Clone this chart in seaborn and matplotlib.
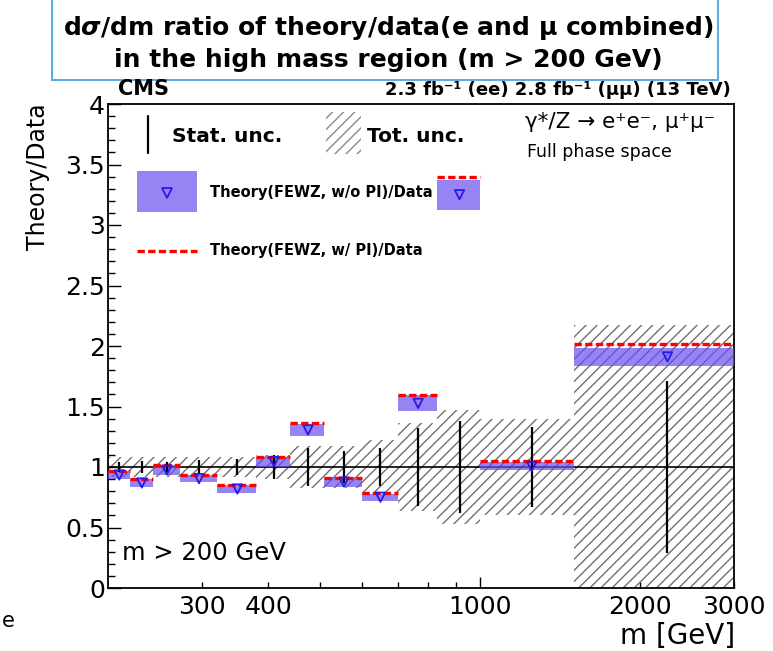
import matplotlib
matplotlib.use("Agg")
import matplotlib.pyplot as plt
from matplotlib.patches import Rectangle
from matplotlib.lines import Line2D
from matplotlib.ticker import FixedLocator, FixedFormatter
import numpy as np
import pandas as pd
import seaborn as sns

# Mass bin edges [GeV]
bin_edges = [200, 220, 243, 273, 320, 380, 440, 510, 600, 700, 830, 1000, 1500, 3000]
# Theory(FEWZ, w/o PI)/Data and its theory uncertainty (half-height of box)
ratio_nopi = [0.934, 0.868, 0.975, 0.904, 0.818, 1.044, 1.306, 0.876, 0.750, 1.526, 3.25, 1.005, 1.91]
ratio_nopi_unc = [0.033, 0.032, 0.040, 0.032, 0.033, 0.040, 0.050, 0.040, 0.030, 0.065, 0.125, 0.033, 0.075]
# Theory(FEWZ, w/ PI)/Data
ratio_pi = [0.967, 0.898, 1.014, 0.937, 0.849, 1.080, 1.360, 0.912, 0.782, 1.595, 3.40, 1.050, 2.02]
# Data uncertainties relative to 1
stat_unc = [0.040, 0.048, 0.045, 0.058, 0.062, 0.100, 0.160, 0.130, 0.155, 0.320, 0.380, 0.330, 0.710]
tot_unc = [0.085, 0.080, 0.080, 0.080, 0.080, 0.100, 0.170, 0.170, 0.220, 0.360, 0.470, 0.400, 1.170]

sns.set_theme(style="ticks")
plt.rcParams["font.family"] = ["DejaVu Sans"]
plt.rcParams["text.color"] = "black"
plt.rcParams["axes.labelcolor"] = "black"
plt.rcParams["mathtext.fontset"] = "custom"
plt.rcParams["mathtext.rm"] = "DejaVu Sans:bold"
plt.rcParams["mathtext.it"] = "DejaVu Sans:italic:bold"
plt.rcParams["mathtext.bf"] = "DejaVu Sans:bold"
plt.rcParams["hatch.linewidth"] = 1.0

W, H = 773, 651
fig = plt.figure(figsize=(W / 100, H / 100), dpi=100)
fig.patch.set_facecolor("white")

def fx(px):
    return px / W

def fy(py):
    return 1 - py / H

ax = fig.add_axes([fx(108), fy(588), fx(734) - fx(108), fy(104) - fy(588)])
ax.set_facecolor("white")

edges = np.array(bin_edges, dtype=float)
lefts, rights = edges[:-1], edges[1:]
centers = 0.5 * (lefts + rights)
nopi = np.array(ratio_nopi)
nopi_u = np.array(ratio_nopi_unc)
pi = np.array(ratio_pi)
stat = np.array(stat_unc)
tot = np.array(tot_unc)

df = pd.DataFrame({"m": centers, "nopi": nopi})

hatch_col = "#707070"
box_col = "#6a50f0"

# total uncertainty band (hatched), one box per bin
for l, r, t in zip(lefts, rights, tot):
    lo = max(1 - t, 0.0)
    ax.add_patch(Rectangle((l, lo), r - l, (1 + t) - lo, facecolor="none",
                           edgecolor=hatch_col, hatch="///", linewidth=0, zorder=1))

# reference line at 1
ax.axhline(1.0, color="black", lw=1.2, zorder=2)

# theory w/o PI boxes
ax.bar(lefts, 2 * nopi_u, width=rights - lefts, bottom=nopi - nopi_u, align="edge",
       color=box_col, alpha=0.7, linewidth=0, zorder=3)

# theory w/ PI dashed lines
ax.hlines(pi, lefts, rights, colors="#ff0000", linestyles=(0, (2.2, 1.0)), lw=2.4, zorder=4)

# statistical uncertainty
ax.vlines(centers, 1 - stat, 1 + stat, colors="black", lw=1.6, zorder=5)

# markers
sns.scatterplot(data=df, x="m", y="nopi", marker="v", s=45, color="none",
                edgecolor="#2a18e6", linewidth=1.3, zorder=6, ax=ax, legend=False)

ax.set_xscale("log")
ax.set_xlim(200, 3000)
ax.set_ylim(0, 4)

# axis ticks
ax.xaxis.set_major_locator(FixedLocator([1000]))
ax.xaxis.set_major_formatter(FixedFormatter(["1000"]))
minor_pos = [300, 400, 500, 600, 700, 800, 900, 2000, 3000]
minor_lab = ["300", "400", "", "", "", "", "", "2000", "3000"]
ax.xaxis.set_minor_locator(FixedLocator(minor_pos))
ax.xaxis.set_minor_formatter(FixedFormatter(minor_lab))
ax.set_yticks(np.arange(0, 4.01, 0.5))
ax.set_yticklabels(["0", "0.5", "1", "1.5", "2", "2.5", "3", "3.5", "4"])
ax.set_yticks(np.arange(0, 4.001, 0.1), minor=True)

ax.tick_params(axis="both", which="both", direction="in", top=False, right=False,
               colors="black", labelsize=18, width=1.0)
ax.tick_params(axis="x", which="major", length=8, pad=5)
ax.tick_params(axis="x", which="minor", length=4.5, pad=5)
ax.tick_params(axis="y", which="major", length=9, pad=2)
ax.tick_params(axis="y", which="minor", length=5)
for s in ax.spines.values():
    s.set_color("black")
    s.set_linewidth(1.3)

ax.set_xlabel("")
ax.set_ylabel("")
fig.text(fx(735), fy(636), "m [GeV]", ha="right", va="center", fontsize=20)
fig.text(fx(38), fy(103), "Theory/Data", ha="center", va="top", rotation=90, fontsize=17)

# in-plot annotations
fig.text(fx(122), fy(553), "m > 200 GeV", ha="left", va="center", fontsize=17.5)
fig.text(fx(525), fy(122), "γ*/Z → e⁺e⁻, μ⁺μ⁻", ha="left", va="center", fontsize=15.5)
fig.text(fx(527), fy(152), "Full phase space", ha="left", va="center", fontsize=12.5)

fig.text(fx(118), fy(89), "CMS", ha="left", va="center", fontsize=15, fontweight="bold")
fig.text(fx(731), fy(90), "2.3 fb⁻¹ (ee) 2.8 fb⁻¹ (μμ) (13 TeV)",
         ha="right", va="center", fontsize=13, fontweight="bold")

# legend
fig.add_artist(Line2D([fx(148), fx(148)], [fy(116), fy(153)], color="black", lw=1.6,
                      transform=fig.transFigure))
fig.text(fx(172), fy(136), "Stat. unc.", ha="left", va="center", fontsize=14.5, fontweight="bold")
fig.add_artist(Rectangle((fx(326), fy(154)), fx(361) - fx(326), fy(112) - fy(154),
                         facecolor="none", edgecolor="#8a8a8a", hatch="///", linewidth=0,
                         transform=fig.transFigure))
fig.text(fx(367), fy(136), "Tot. unc.", ha="left", va="center", fontsize=14.5, fontweight="bold")
fig.add_artist(Rectangle((fx(137), fy(212)), fx(197) - fx(137), fy(171) - fy(212),
                         facecolor=box_col, alpha=0.7, linewidth=0, transform=fig.transFigure))
fig.add_artist(Line2D([fx(167)], [fy(193)], marker="v", markersize=7, markerfacecolor="none",
                      markeredgecolor="#2a18e6", markeredgewidth=1.3, linestyle="none",
                      transform=fig.transFigure))
fig.text(fx(210), fy(193), "Theory(FEWZ, w/o PI)/Data", ha="left", va="center",
         fontsize=10.5, fontweight="bold")
fig.add_artist(Line2D([fx(137), fx(197)], [fy(251), fy(251)], color="#ff0000", lw=2.4,
                      linestyle=(0, (2.2, 1.0)), transform=fig.transFigure))
fig.text(fx(210), fy(250), "Theory(FEWZ, w/ PI)/Data", ha="left", va="center",
         fontsize=10.5, fontweight="bold")

# title box
fig.add_artist(Rectangle((fx(52), fy(80)), fx(718) - fx(52), fy(-5) - fy(80),
                         facecolor="white", edgecolor="#5aaee6", linewidth=1.5,
                         transform=fig.transFigure))
fig.text(fx(388), fy(28), r"d$\sigma$/dm ratio of theory/data(e and μ combined)",
         ha="center", va="center", fontsize=18, fontweight="bold")
fig.text(fx(388), fy(60), "in the high mass region (m > 200 GeV)",
         ha="center", va="center", fontsize=18, fontweight="bold")

fig.text(fx(8), fy(621), "e", ha="center", va="center", fontsize=15)

fig.savefig("out.png", dpi=100)
